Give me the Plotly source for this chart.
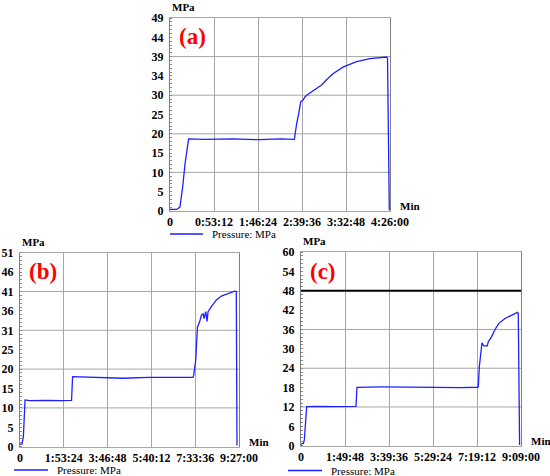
import plotly.graph_objects as go

# ---- data (time in seconds, pressure in MPa) ----
a_time_s = [0, 480, 720, 920, 1090, 1210, 1350, 2500, 4500, 6500,
            8000, 9020, 9070, 9190, 9340, 9480, 9640, 9800, 10040, 10280,
            10640, 11000, 11370, 11850, 12580, 13540, 14510, 15240, 15720, 15780,
            15840, 15910]
a_mpa = [0.4, 0.4, 1.0, 6.1, 12.0, 14.6, 18.3, 18.2, 18.3, 18.1,
         18.3, 18.2, 19.7, 22.2, 24.8, 27.7, 28.1, 29.0, 29.7, 30.3,
         31.1, 32.0, 33.4, 34.9, 36.6, 37.9, 38.7, 38.9, 39.1, 38.8,
         20.0, 0.2]

b_time_s = [0, 310, 520, 780, 1500, 4000, 6500, 8010, 8170, 12000,
            16000, 20000, 24000, 26880, 26990, 27140, 27300, 27560, 27920, 28180,
            28440, 28590, 28850, 29060, 29210, 29730, 30500, 31280, 32310, 33350,
            33600, 33660, 33710]
b_mpa = [0.7, 0.7, 2.6, 12.3, 12.1, 12.2, 12.1, 12.2, 18.4, 18.2,
         18.0, 18.2, 18.1, 18.2, 18.8, 20.3, 22.8, 31.4, 32.9, 34.6,
         34.9, 33.7, 35.5, 32.9, 35.5, 36.8, 38.6, 39.6, 40.3, 40.9,
         40.8, 0.9, 0.3]

c_time_s = [0, 350, 500, 850, 2500, 5000, 8230, 8380, 12000, 16000,
            20000, 24000, 26450, 26550, 26700, 26900, 27100, 27350, 27890, 28040,
            28540, 29040, 29640, 30540, 31540, 32430, 32530, 32580, 32630, 32730]
c_mpa = [0.5, 0.7, 1.8, 12.1, 12.2, 12.1, 12.2, 18.1, 18.2, 18.1,
         18.2, 18.0, 18.1, 18.3, 24.5, 29.6, 31.9, 30.9, 30.9, 32.2,
         33.8, 36.0, 37.9, 39.4, 40.5, 41.3, 41.0, 29.6, 3.8, 0.2]
c_limit_mpa = 48

# ---- axis ticks ----
a_xtick_vals = [0, 3192, 6384, 9576, 12768, 15960]
a_xtick_text = ["0", "0:53:12", "1:46:24", "2:39:36", "3:32:48", "4:26:00"]
a_ytick_vals = [0, 4.9, 9.8, 14.7, 19.6, 24.5, 29.4, 34.3, 39.2, 44.1, 49]
a_ytick_text = ["0", "5", "10", "15", "20", "25", "30", "34", "39", "44", "49"]
a_ygrid = [9.8, 19.6, 29.4, 39.2]

b_xtick_vals = [0, 6804, 13608, 20412, 27216, 34020]
b_xtick_text = ["0", "1:53:24", "3:46:48", "5:40:12", "7:33:36", "9:27:00"]
b_ytick_vals = [0, 5.1, 10.2, 15.3, 20.4, 25.5, 30.6, 35.7, 40.8, 45.9, 51]
b_ytick_text = ["0", "5", "10", "15", "20", "25", "31", "36", "41", "46", "51"]
b_ygrid = [10.2, 20.4, 30.6, 40.8]

c_xtick_vals = [0, 6588, 13176, 19764, 26352, 32940]
c_xtick_text = ["0", "1:49:48", "3:39:36", "5:29:24", "7:19:12", "9:09:00"]
c_ytick_vals = [0, 6, 12, 18, 24, 30, 36, 42, 48, 54, 60]
c_ytick_text = ["0", "6", "12", "18", "24", "30", "36", "42", "48", "54", "60"]
c_ygrid = [12, 24, 36]

SERIF = "Liberation Serif"
BLUE = "#1f1fff"
GRID = "#a6a6a6"
W, H = 550, 476

panels = [
    # (label, x, y, xticks, xtext, yticks, ytext, ygrid, xdomain, ydomain, legend line px)
    ("(a)", a_time_s, a_mpa, a_xtick_vals, a_xtick_text, a_ytick_vals, a_ytick_text,
     a_ygrid, [170 / W, 390 / W], [1 - 211 / H, 1 - 18 / H], (170, 203, 234)),
    ("(b)", b_time_s, b_mpa, b_xtick_vals, b_xtick_text, b_ytick_vals, b_ytick_text,
     b_ygrid, [20 / W, 239 / W], [1 - 446.7 / H, 1 - 252.7 / H], (14, 48, 470)),
    ("(c)", c_time_s, c_mpa, c_xtick_vals, c_xtick_text, c_ytick_vals, c_ytick_text,
     c_ygrid, [301 / W, 521 / W], [1 - 445.7 / H, 1 - 252 / H], (288, 322, 470.5)),
]

fig = go.Figure()
layout = dict(
    width=W, height=H,
    margin=dict(l=0, r=0, t=0, b=0, pad=0, autoexpand=False),
    paper_bgcolor="white", plot_bgcolor="white",
    font=dict(family=SERIF, color="black"),
    showlegend=False,
)
shapes, annotations = [], []

for i, (label, t, p, xv, xt, yv, yt, yg, xdom, ydom, leg) in enumerate(panels):
    n = "" if i == 0 else str(i + 1)
    fig.add_trace(go.Scatter(
        x=t, y=p, mode="lines", name="Pressure: MPa",
        line=dict(color=BLUE, width=1.3),
        xaxis="x" + n, yaxis="y" + n,
    ))
    layout["xaxis" + n] = dict(
        domain=xdom, anchor="y" + n, range=[0, xv[-1]], automargin=False,
        tickmode="array", tickvals=xv, ticktext=xt,
        showgrid=True, gridcolor=GRID, gridwidth=1,
        showline=True, linecolor=GRID, mirror=True, zeroline=False,
        ticks="", tickfont=dict(size=12, family=SERIF, weight="bold"),
    )
    ystep = yv[1] - yv[0]
    layout["yaxis" + n] = dict(
        domain=ydom, anchor="x" + n, range=[0, yv[-1]], automargin=False,
        tickmode="array", tickvals=yv, ticktext=yt,
        showgrid=False, zeroline=False,
        showline=True, linecolor="#7f7f7f", mirror=True,
        ticks="", ticklabelstandoff=3,
        tickfont=dict(size=12, family=SERIF, weight="bold"),
        minor=dict(tickmode="linear", tick0=0, dtick=ystep / 5, ticks="inside",
                   ticklen=2, tickwidth=1, tickcolor="#8a8a8a", showgrid=False),
    )
    for g in yg:
        shapes.append(dict(type="line", xref="x" + n + " domain", yref="y" + n,
                           x0=0, x1=1, y0=g, y1=g, layer="below",
                           line=dict(color=GRID, width=1)))
    # legend: line sample + name
    shapes.append(dict(type="line", xref="paper", yref="paper",
                       x0=leg[0] / W, x1=leg[1] / W, y0=1 - leg[2] / H, y1=1 - leg[2] / H,
                       line=dict(color=BLUE, width=1.5)))
    annotations += [
        dict(text="Pressure: MPa", xref="paper", yref="paper",
             x=(leg[1] + 8) / W, y=1 - leg[2] / H, xanchor="left", yanchor="middle",
             showarrow=False, borderpad=0, font=dict(size=11, family=SERIF)),
        dict(text="<b>MPa</b>", xref="x" + n + " domain", yref="y" + n + " domain",
             x=0, y=1, xanchor="left", yanchor="middle", yshift=11, showarrow=False,
             font=dict(size=11, family=SERIF)),
        dict(text="<b>Min</b>", xref="x" + n + " domain", yref="y" + n + " domain",
             x=1, y=0, xanchor="left", yanchor="middle", xshift=8, yshift=5,
             showarrow=False, font=dict(size=11, family=SERIF)),
        dict(text="<b>" + label + "</b>", xref="x" + n + " domain",
             yref="y" + n + " domain", x=0, y=1, xanchor="left", yanchor="middle",
             xshift=7, yshift=-19, showarrow=False,
             font=dict(size=23, family=SERIF, color="#ff0000")),
    ]

# safety limit line on panel (c)
shapes.append(dict(type="line", xref="x3 domain", yref="y3", x0=0, x1=1,
                   y0=c_limit_mpa, y1=c_limit_mpa, line=dict(color="black", width=2)))

layout["shapes"] = shapes
layout["annotations"] = annotations
fig.update_layout(**layout)

# page body has a default 8px margin; drop it so the figure sits at the window origin
fig.write_html("out.html", config={"displayModeBar": False},
               post_script="document.body.style.margin = '0px';")
